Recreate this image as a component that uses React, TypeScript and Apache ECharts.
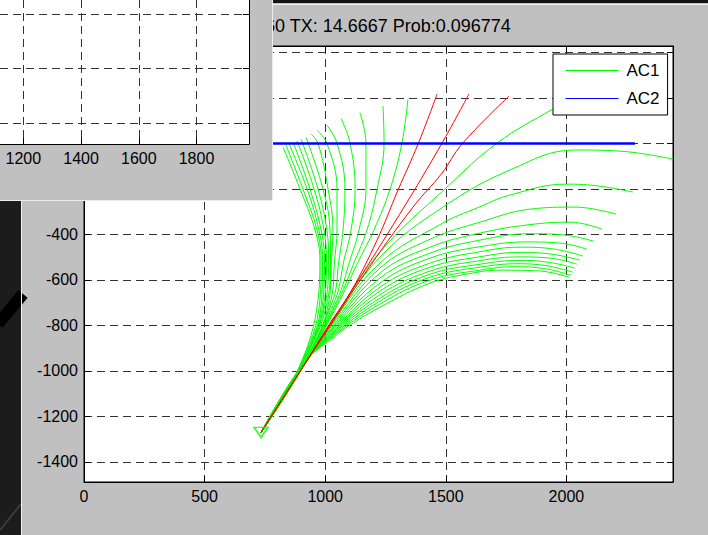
import React, { useEffect, useRef } from "react";
import * as echarts from "echarts";

// ---------- main axes ----------
const xTicks = [0, 500, 1000, 1500, 2000];
const yTicks = [-1400, -1200, -1000, -800, -600, -400, -200, 0, 200, 400];
const yLabelTicks = [-1400, -1200, -1000, -800, -600, -400];
const xRange = [0, 2442];
const yRange = [-1488, 428];

// ---------- inset (other window) axes ----------
const insetXTicks = [1200, 1400, 1600, 1800];
const insetYTicks = [-400, -200, 0];
const insetXRange = [1119, 1982];
const insetYRange = [-478, 51];

// ---------- data ----------
const startPoint = [734, -1270];

// AC1 candidate trajectories that turn left
const ac1Left = [
  [[887, -997], [970, -689], [978, -513], [958, -381], [896, -201], [825, -16]],
  [[887, -997], [978, -689], [983, -513], [966, -381], [908, -201], [837, -7]],
  [[887, -997], [985, -689], [989, -513], [974, -381], [925, -201], [850, -1]],
  [[891, -997], [991, -689], [997, -513], [983, -381], [937, -201], [867, 6]],
  [[891, -997], [997, -689], [1005, -513], [995, -381], [954, -201], [883, 12]],
  [[891, -997], [1003, -689], [1014, -513], [1007, -381], [970, -201], [900, 19]],
  [[891, -997], [1010, -689], [1022, -513], [1020, -381], [991, -201], [920, 28]],
  [[896, -997], [1016, -689], [1026, -513], [1032, -381], [1012, -201], [970, 1], [941, 41]],
  [[896, -997], [1024, -689], [1039, -513], [1049, -381], [1049, -201], [1007, 1], [966, 58]],
  [[896, -997], [1032, -689], [1057, -513], [1074, -381], [1082, -201], [1049, 1], [1007, 80]],
  [[896, -997], [1041, -689], [1078, -513], [1107, -381], [1124, -201], [1103, 1], [1066, 109]],
  [[896, -997], [1049, -689], [1103, -513], [1140, -381], [1169, -201], [1169, 1], [1144, 135]],
  [[900, -997], [1055, -689], [1124, -513], [1173, -381], [1215, -201], [1244, 1], [1240, 164]],
  [[900, -997], [1061, -689], [1140, -513], [1202, -381], [1269, -201], [1318, 1], [1343, 193]],
];

// AC1 candidate trajectories that turn right
const ac1Right = [
  [[904, -988], [1020, -794], [1227, -478], [1505, -192], [1712, 1], [1944, 151], [2119, 252]],
  [[904, -988], [1020, -799], [1227, -500], [1488, -280], [1766, -117], [2036, -29], [2222, -34], [2442, -69]],
  [[904, -988], [1020, -805], [1227, -526], [1488, -350], [1629, -284], [1766, -227], [2002, -179], [2139, -188], [2276, -214]],
  [[904, -988], [1020, -812], [1227, -548], [1435, -421], [1642, -346], [1849, -289], [2036, -280], [2206, -311]],
  [[904, -988], [1020, -819], [1227, -570], [1435, -456], [1642, -394], [1849, -357], [2015, -346], [2148, -377]],
  [[900, -988], [1020, -825], [1227, -592], [1435, -482], [1642, -425], [1849, -397], [1994, -403], [2114, -430]],
  [[900, -988], [1020, -830], [1227, -614], [1435, -504], [1642, -454], [1837, -433], [1973, -438], [2085, -465]],
  [[900, -988], [1020, -836], [1227, -632], [1435, -526], [1642, -476], [1808, -456], [1953, -465], [2069, -495]],
  [[900, -988], [1020, -841], [1227, -649], [1435, -544], [1642, -498], [1808, -479], [1940, -487], [2056, -513]],
  [[896, -988], [1020, -845], [1227, -665], [1435, -561], [1642, -515], [1808, -499], [1932, -504], [2044, -531]],
  [[896, -988], [1020, -849], [1227, -680], [1435, -575], [1642, -531], [1808, -514], [1924, -522], [2036, -548]],
  [[896, -988], [1020, -854], [1227, -693], [1435, -588], [1642, -544], [1799, -529], [1915, -537], [2027, -566]],
  [[896, -988], [1020, -858], [1227, -706], [1435, -601], [1642, -557], [1787, -542], [1907, -550], [2019, -579]],
  [[896, -992], [949, -922], [1020, -865], [1090, -808], [1227, -720], [1435, -614], [1600, -572], [1725, -557], [1891, -561], [2011, -588]],
];

// red (selected) trajectories
const predicted = [
  [[904, -988], [1020, -790], [1103, -658], [1215, -425], [1302, -205], [1385, -3], [1464, 217]],
  [[904, -988], [1024, -790], [1281, -359], [1468, -29], [1596, 217]],
  [[904, -988], [1028, -790], [1157, -583], [1364, -280], [1484, -131], [1567, -3], [1762, 208]],
];

const ac2 = [[600, 0], [2284, 0]];

const titleText = "60 TX: 14.6667 Prob:0.096774";

const FONT = '"Liberation Sans", Arial, Helvetica, sans-serif';
const GREEN = "#00ff00";
const RED = "#ff0000";
const BLUE = "#0000ff";
const GRID_LINE = { show: true, lineStyle: { color: "#333333", width: 1, type: [8, 5] } };

function withStart(curve: number[][]) {
  return [startPoint, ...curve];
}

const plain = (v: number) => String(v);

function buildOption() {
  const series: any[] = [];
  [...ac1Left, ...ac1Right].forEach((c) => {
    series.push({
      type: "line", name: "AC1", xAxisIndex: 0, yAxisIndex: 0,
      data: withStart(c), symbol: "none", smooth: 0.4,
      lineStyle: { color: GREEN, width: 1 }, itemStyle: { color: GREEN }, z: 2,
    });
  });
  predicted.forEach((c) => {
    series.push({
      type: "line", name: "selected", xAxisIndex: 0, yAxisIndex: 0,
      data: withStart(c), symbol: "none", smooth: 0.4,
      lineStyle: { color: RED, width: 1 }, itemStyle: { color: RED }, z: 3,
    });
  });
  series.push({
    type: "line", name: "AC2", xAxisIndex: 0, yAxisIndex: 0,
    data: ac2, symbol: "none",
    lineStyle: { color: BLUE, width: 2.5 }, itemStyle: { color: BLUE }, z: 4,
  });
  series.push({
    type: "scatter", name: "start", xAxisIndex: 0, yAxisIndex: 0,
    data: [startPoint], symbol: "triangle", symbolRotate: 180, symbolSize: [14, 10],
    itemStyle: { color: "rgba(0,0,0,0)", borderColor: GREEN, borderWidth: 1.6 }, z: 4,
  });
  series.push({ type: "line", name: "inset", xAxisIndex: 2, yAxisIndex: 2, data: [], silent: true });

  const axisLineBlack = { show: true, onZero: false, lineStyle: { color: "#000", width: 1 } };
  const labelStyle = { color: "#000", fontSize: 16, fontFamily: FONT, formatter: plain };
  const tick = (values: number[]) => ({
    show: true, inside: true, length: 6, customValues: values, lineStyle: { color: "#000" },
  });

  return {
    animation: false,
    backgroundColor: "#c0c0c0",
    legend: {
      data: ["AC1", "AC2"],
      left: 553, top: 54, orient: "vertical",
      padding: [8, 8, 8, 12], itemGap: 11, itemWidth: 53, itemHeight: 14,
      backgroundColor: "#fff", borderColor: "#000", borderWidth: 1, borderRadius: 0,
      selectedMode: false,
      itemStyle: { opacity: 0 },
      lineStyle: { width: 1 },
      textStyle: { fontSize: 17, color: "#000", fontFamily: FONT, padding: [0, 0, 0, 3] },
      z: 20,
    },
    grid: [
      { left: 84, top: 46, width: 589, height: 436, show: true, borderColor: "#000", borderWidth: 1, backgroundColor: "#fff" },
      { left: 0, top: 0, width: 249, height: 144, show: false },
    ],
    xAxis: [
      {
        gridIndex: 0, type: "value", min: xRange[0], max: xRange[1], position: "bottom",
        axisLine: axisLineBlack, axisTick: tick(xTicks),
        axisLabel: { ...labelStyle, customValues: xTicks, margin: 6 },
        splitLine: GRID_LINE,
      },
      {
        gridIndex: 0, type: "value", min: xRange[0], max: xRange[1], position: "top",
        axisLine: axisLineBlack, axisTick: tick(xTicks),
        axisLabel: { show: false }, splitLine: { show: false },
      },
      {
        gridIndex: 1, type: "value", min: insetXRange[0], max: insetXRange[1], position: "bottom",
        axisLine: axisLineBlack, axisTick: tick(insetXTicks),
        axisLabel: { ...labelStyle, customValues: insetXTicks, margin: 6 },
        splitLine: GRID_LINE, z: 100,
      },
    ],
    yAxis: [
      {
        gridIndex: 0, type: "value", min: yRange[0], max: yRange[1], position: "left",
        axisLine: axisLineBlack, axisTick: tick(yTicks),
        axisLabel: { ...labelStyle, customValues: yLabelTicks, margin: 6 },
        splitLine: GRID_LINE,
      },
      {
        gridIndex: 0, type: "value", min: yRange[0], max: yRange[1], position: "right",
        axisLine: axisLineBlack, axisTick: tick(yTicks),
        axisLabel: { show: false }, splitLine: { show: false },
      },
      {
        gridIndex: 1, type: "value", min: insetYRange[0], max: insetYRange[1], position: "right",
        axisLine: axisLineBlack, axisTick: tick(insetYTicks),
        axisLabel: { show: false }, splitLine: GRID_LINE, z: 100,
      },
    ],
    graphic: [
      // desktop strip at lower left
      { type: "rect", shape: { x: 0, y: 200, width: 21, height: 335 }, style: { fill: "#1c1c1c" }, z: 1 },
      { type: "line", shape: { x1: -2, y1: 324, x2: 23, y2: 294 }, style: { stroke: "#000", lineWidth: 12 }, z: 1 },
      { type: "line", shape: { x1: 0, y1: 530, x2: 21, y2: 504 }, style: { stroke: "#3a3a3a", lineWidth: 2 }, z: 1 },
      { type: "line", shape: { x1: 21.5, y1: 200, x2: 21.5, y2: 535 }, style: { stroke: "#f2f2f2", lineWidth: 1 }, z: 1 },
      // main window top edge
      { type: "rect", shape: { x: 272, y: 0, width: 436, height: 3 }, style: { fill: "#141414" }, z: 1 },
      { type: "line", shape: { x1: 272, y1: 4.5, x2: 708, y2: 4.5 }, style: { stroke: "#f2f2f2", lineWidth: 1 }, z: 1 },
      // title
      {
        type: "text", x: 265, y: 26, z: 5,
        style: { text: titleText, fontSize: 18, fontFamily: FONT, fill: "#000", verticalAlign: "middle", align: "left" },
      },
      // overlapping window (top left)
      { type: "rect", shape: { x: 0, y: 0, width: 272, height: 200 }, style: { fill: "#c0c0c0" }, z: 90 },
      { type: "rect", shape: { x: 0, y: 0, width: 249, height: 144 }, style: { fill: "#fff" }, z: 91 },
      { type: "line", shape: { x1: 272.5, y1: 0, x2: 272.5, y2: 200 }, style: { stroke: "#ececec", lineWidth: 1 }, z: 92 },
      { type: "line", shape: { x1: 0, y1: 200.5, x2: 273, y2: 200.5 }, style: { stroke: "#ececec", lineWidth: 1 }, z: 92 },
    ],
    series,
  };
}

export default function App() {
  const ref = useRef<HTMLDivElement>(null);
  useEffect(() => {
    const chart = echarts.init(ref.current!, null, { renderer: "svg" });
    chart.setOption(buildOption() as any);
    return () => chart.dispose();
  }, []);
  return <div ref={ref} style={{ position: "fixed", left: 0, top: 0, width: 708, height: 535 }} />;
}
